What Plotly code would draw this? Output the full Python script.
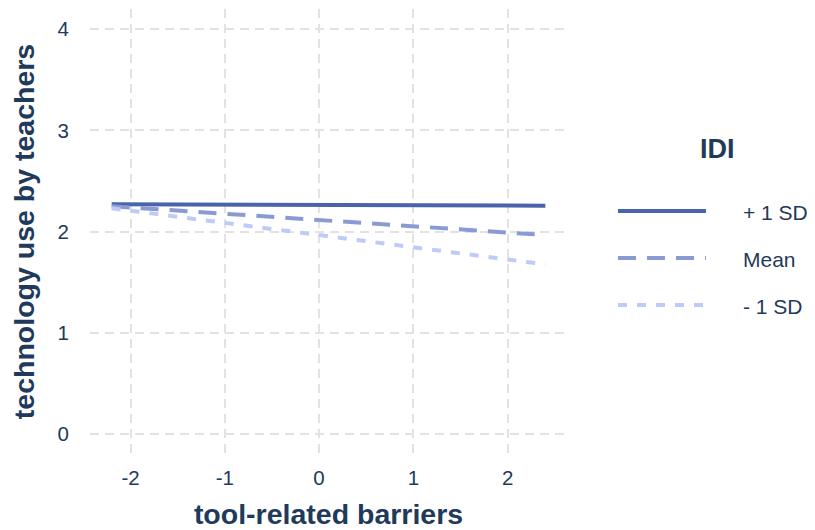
import plotly.graph_objects as go

# ---- data ----
x_barriers = [-2.2, 2.4]
series_names = ["+ 1 SD", "Mean", "- 1 SD"]
y_plus1sd = [2.27, 2.255]
y_mean = [2.25, 1.965]
y_minus1sd = [2.23, 1.675]
x_ticks = [-2, -1, 0, 1, 2]
y_ticks = [0, 1, 2, 3, 4]

# ---- styles ----
colors = ["#4a63ad", "#8a9bd4", "#bfcbf7"]
dashes = ["solid", "18px,11px", "9px,10px"]
text_color = "#1f3a5a"
grid_color = "#e2e2e2"
FONT = "Liberation Sans, Arial, sans-serif"

# the page body has an 8px default margin: size the figure to the visible area
OFF = 8
W, H = 815 - OFF, 530 - OFF
L, R, T, B = 90 - OFF, 248, 9 - OFF, 84 - OFF
PW, PH = W - L - R, H - T - B

fig = go.Figure()
for name, ys, c, d in zip(series_names, [y_plus1sd, y_mean, y_minus1sd], colors, dashes):
    fig.add_trace(go.Scatter(x=x_barriers, y=ys, mode="lines", name=name,
                             line=dict(color=c, width=4, dash=d), showlegend=False))

# manual legend (wide key glyphs like ggplot); positions given in window pixels
def px_x(p):
    return (p - OFF - L) / PW

def px_y(p):
    return (H - B - (p - OFF)) / PH

legend_rows_y = [211, 258, 305]
for name, c, d, yy in zip(series_names, colors, dashes, legend_rows_y):
    fig.add_shape(type="line", xref="paper", yref="paper",
                  x0=px_x(618), x1=px_x(706), y0=px_y(yy), y1=px_y(yy),
                  line=dict(color=c, width=4, dash=d))
    fig.add_annotation(xref="paper", yref="paper", x=px_x(741), y=px_y(yy + 1),
                       xanchor="left", yanchor="middle", text=name, showarrow=False,
                       font=dict(size=21, color=text_color, family=FONT))
fig.add_annotation(xref="paper", yref="paper", x=px_x(717), y=px_y(149),
                   xanchor="center", yanchor="middle", text="<b>IDI</b>", showarrow=False,
                   font=dict(size=27, color=text_color, family=FONT))

fig.update_layout(
    template="none",
    width=W, height=H, autosize=False,
    margin=dict(l=L, r=R, t=T, b=B, pad=0),
    paper_bgcolor="white", plot_bgcolor="white",
    font=dict(family=FONT, color=text_color),
)
fig.update_xaxes(range=[-2.43, 2.63], tickvals=x_ticks, ticktext=[str(v) for v in x_ticks],
                 automargin=False,
                 showgrid=True, gridcolor=grid_color, gridwidth=2, griddash="9px,6px",
                 zeroline=False, showline=False, ticks="",
                 tickfont=dict(size=20.5, color=text_color, family=FONT), ticklabelstandoff=9,
                 title=dict(text="<b>tool-related barriers</b>", standoff=20,
                            font=dict(size=28.5, color=text_color, family=FONT)))
fig.update_yaxes(range=[-0.2, 4.2], tickvals=y_ticks, ticktext=[str(v) for v in y_ticks],
                 automargin=False,
                 showgrid=True, gridcolor=grid_color, gridwidth=2, griddash="9px,6px",
                 zeroline=False, showline=False, ticks="",
                 tickfont=dict(size=20.5, color=text_color, family=FONT), ticklabelstandoff=20,
                 title=dict(text="<b>technology use by teachers</b>", standoff=14,
                            font=dict(size=28.5, color=text_color, family=FONT)))

fig.write_html("out.html")
